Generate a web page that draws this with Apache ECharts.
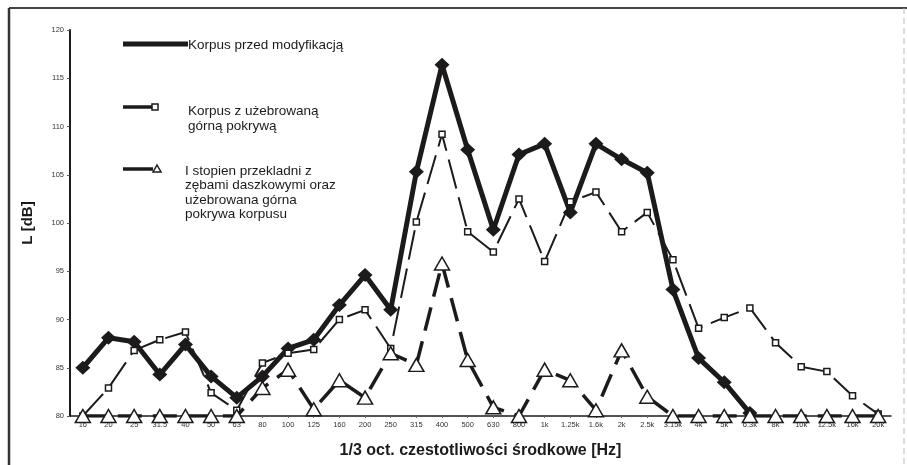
<!DOCTYPE html>
<html>
<head>
<meta charset="utf-8">
<script src="https://cdn.jsdelivr.net/npm/echarts@6/dist/echarts.min.js"></script>
<style>
  html, body { margin: 0; padding: 0; background: #fff; }
  #chart { width: 907px; height: 465px; }
</style>
</head>
<body>
<div id="chart"></div>
<script>
// 1/3-octave centre frequencies
var freqLabels = ['16', '20', '25', '31.5', '40', '50', '63', '80', '100', '125', '160', '200', '250', '315',
  '400', '500', '630', '800', '1k', '1.25k', '1.6k', '2k', '2.5k', '3.15k', '4k', '5k', '6.3k', '8k',
  '10k', '12.5k', '16k', '20k'];

// Sound level L [dB] per band
var korpusPrzed = [85.0, 88.1, 87.7, 84.3, 87.4, 84.1, 81.9, 84.1, 87.0, 87.9, 91.5, 94.6, 91.0, 105.3,
  116.4, 107.6, 99.3, 107.1, 108.2, 101.1, 108.2, 106.6, 105.2, 93.1, 86.0, 83.5, 80.3, null,
  null, null, null, null];
var korpusUzebrowany = [80.0, 82.9, 86.8, 87.9, 88.7, 82.4, 80.6, 85.5, 86.5, 86.9, 90.0, 91.0, 87.0, 100.1,
  109.2, 99.1, 97.0, 102.5, 96.0, 102.2, 103.2, 99.1, 101.1, 96.2, 89.1, 90.2, 91.2, 87.6,
  85.1, 84.6, 82.1, 80.2];
var przekladnia = [80, 80, 80, 80, 80, 80, 80, 82.9, 84.8, 80.7, 83.7, 81.9, 86.5, 85.3,
  95.8, 85.8, 80.9, 80.0, 84.8, 83.7, 80.6, 86.8, 82.0, 80, 80, 80, 80, 80,
  80, 80, 80, 80];

// Axis range
var yMin = 80, yMax = 120, yStep = 5;

var ink = '#1c1a1b';
var font = '"Liberation Sans", Arial, sans-serif';

var legendText = { fontFamily: font, fontSize: 13.5, fill: ink };

var chart = echarts.init(document.getElementById('chart'), null, { renderer: 'canvas' });
chart.setOption({
  animation: false,
  backgroundColor: '#ffffff',
  grid: { left: 70, right: 16, top: 30, bottom: 49, containLabel: false },
  xAxis: {
    type: 'category',
    data: freqLabels,
    boundaryGap: true,
    name: '1/3 oct. czestotliwości środkowe [Hz]',
    nameLocation: 'middle',
    nameGap: 27,
    nameTextStyle: { fontFamily: font, fontSize: 16, fontWeight: 'bold', color: ink },
    axisLine: { lineStyle: { color: ink, width: 1.5 } },
    axisTick: { show: true, alignWithLabel: true, length: 2, lineStyle: { color: '#666', width: 1 } },
    axisLabel: { fontFamily: font, fontSize: 7.5, color: '#333', margin: 5, interval: 0 },
    splitLine: { show: false }
  },
  yAxis: {
    type: 'value',
    min: yMin,
    max: yMax,
    interval: yStep,
    name: 'L [dB]',
    nameLocation: 'middle',
    nameGap: 35,
    nameRotate: 90,
    nameTextStyle: { fontFamily: font, fontSize: 15, fontWeight: 'bold', color: ink },
    axisLine: { show: true, lineStyle: { color: ink, width: 2 } },
    axisTick: { show: true, length: 3, lineStyle: { color: '#555', width: 1 } },
    axisLabel: { fontFamily: font, fontSize: 7.5, color: '#333', margin: 6 },
    splitLine: { show: false }
  },
  series: [
    {
      name: 'Korpus przed modyfikacją',
      type: 'line',
      data: korpusPrzed,
      symbol: 'diamond',
      symbolSize: [15, 14],
      itemStyle: { color: ink },
      lineStyle: { color: ink, width: 5 },
      z: 2
    },
    {
      name: 'Korpus z użebrowaną górną pokrywą',
      type: 'line',
      data: korpusUzebrowany,
      symbol: 'rect',
      symbolSize: 6,
      itemStyle: { color: '#ffffff', borderColor: ink, borderWidth: 1.5 },
      lineStyle: { color: ink, width: 2, type: [30, 9] },
      z: 3
    },
    {
      name: 'I stopien przekladni z zębami daszkowymi oraz użebrowana górna pokrywa korpusu',
      type: 'line',
      data: przekladnia,
      symbol: 'triangle',
      symbolSize: [15, 13],
      itemStyle: { color: '#ffffff', borderColor: ink, borderWidth: 1.5 },
      lineStyle: { color: ink, width: 3.5, type: [24, 11] },
      z: 4
    }
  ],
  graphic: [
    // frame around the figure
    { type: 'line', shape: { x1: 9, y1: 8, x2: 907, y2: 8 }, style: { stroke: '#444', lineWidth: 2 } },
    { type: 'line', shape: { x1: 9, y1: 8, x2: 9, y2: 465 }, style: { stroke: '#333', lineWidth: 2.5 } },
    { type: 'line', shape: { x1: 904, y1: 8, x2: 904, y2: 465 }, style: { stroke: '#bbb', lineWidth: 1, lineDash: [6, 4] } },

    // legend entry 1
    { type: 'line', shape: { x1: 123, y1: 44, x2: 188, y2: 44 }, style: { stroke: ink, lineWidth: 5 } },
    { type: 'text', x: 188, y: 45, style: Object.assign({ text: 'Korpus przed modyfikacją', verticalAlign: 'middle' }, legendText) },

    // legend entry 2
    { type: 'line', shape: { x1: 123, y1: 107, x2: 153, y2: 107 }, style: { stroke: ink, lineWidth: 3.5 } },
    { type: 'rect', shape: { x: 152, y: 104, width: 6, height: 6 }, style: { fill: '#fff', stroke: ink, lineWidth: 1.5 } },
    { type: 'text', x: 188, y: 119, style: Object.assign({ text: 'Korpus z użebrowaną\ngórną pokrywą', verticalAlign: 'middle', lineHeight: 14.5 }, legendText) },

    // legend entry 3
    { type: 'line', shape: { x1: 123, y1: 169, x2: 153, y2: 169 }, style: { stroke: ink, lineWidth: 3.5 } },
    { type: 'polygon', shape: { points: [[157, 165], [161, 172], [153, 172]] }, style: { fill: '#fff', stroke: ink, lineWidth: 1.5 } },
    { type: 'text', x: 185, y: 193, style: Object.assign({ text: 'I stopien przekladni z\nzębami daszkowymi oraz\nużebrowana górna\npokrywa korpusu', verticalAlign: 'middle', lineHeight: 14.5 }, legendText) }
  ]
});
</script>
</body>
</html>
